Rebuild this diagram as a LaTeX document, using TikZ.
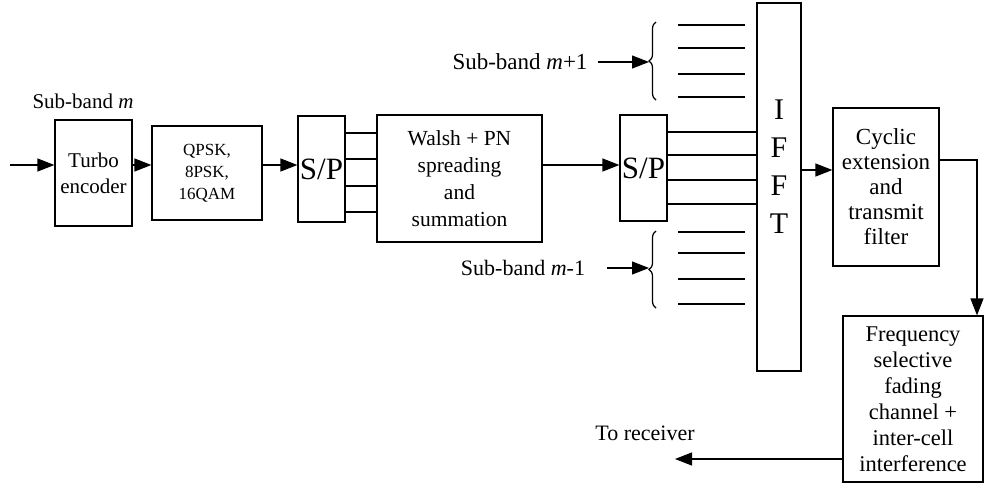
\documentclass[tikz,border=0pt]{standalone}
\usepackage{fontspec}
\setmainfont{Liberation Serif}
\usetikzlibrary{arrows.meta,decorations.pathreplacing}
\begin{document}
\begin{tikzpicture}[x=1pt,y=-1pt,
  line width=1.2pt,
  box/.style={draw,rectangle,align=center,inner sep=0pt,font=\fontsize{21}{26}\selectfont},
  arr/.style={-{Triangle[length=17pt,width=13pt]}},
  lbl/.style={font=\fontsize{22}{26}\selectfont,inner sep=0pt}]
\useasboundingbox (0,0) rectangle (986,485);
% blocks
\node[box,minimum width=77pt,minimum height=106pt] (turbo) at (93.5,173) {Turbo\\encoder};
\node[box,minimum width=110pt,minimum height=94pt,font=\fontsize{17}{22}\selectfont] (qpsk) at (207,173) {QPSK,\\8PSK,\\16QAM};
\node[box,minimum width=47pt,minimum height=106pt,font=\fontsize{31}{34}\selectfont] (sp1) at (321.5,169) {S/P};
\node[box,minimum width=165pt,minimum height=127pt,font=\fontsize{21.5}{27}\selectfont] (walsh) at (459.5,178.5) {Walsh + PN\\spreading\\and\\summation};
\node[box,minimum width=47pt,minimum height=106pt,font=\fontsize{31}{34}\selectfont] (sp2) at (643.5,168) {S/P};
\node[draw,rectangle,minimum width=44pt,minimum height=368pt,inner sep=0pt] (ifft) at (779,187) {};
\node[align=center,inner sep=0pt,font=\fontsize{30}{38}\selectfont] (ifftt) at (779,167) {I\\F\\F\\T};
\node[box,minimum width=106pt,minimum height=158pt,font=\fontsize{23}{25}\selectfont] (cyc) at (886,187) {Cyclic\\extension\\and\\transmit\\filter};
\node[box,minimum width=140pt,minimum height=166pt,font=\fontsize{22.5}{26}\selectfont] (chan) at (913,399) {Frequency\\selective\\fading\\channel +\\inter-cell\\interference};
% labels
\node[lbl,font=\fontsize{21}{24}\selectfont] (lm) at (83,101) {Sub-band \textit{m}};
\node[lbl,font=\fontsize{23}{26}\selectfont] (lmp) at (520,62) {Sub-band \textit{m}+1};
\node[lbl] (lmm) at (523,268) {Sub-band \textit{m}-1};
\node[lbl] (rx) at (645,433) {To receiver};
% main chain
\coordinate (in) at (10,165);
\draw[arr] (in) -- (in -| turbo.west);
\draw[arr] (turbo.east |- in) -- (qpsk.west |- in);
\draw[arr] (qpsk.east |- in) -- (sp1.west |- in);
\foreach \y in {133,159,186,212}
  \draw (sp1.east |- 0,\y) -- (walsh.west |- 0,\y);
\draw[arr] (walsh.east |- in) -- (sp2.west |- in);
\foreach \y in {132,155,180,204}
  \draw (sp2.east |- 0,\y) -- (ifft.west |- 0,\y);
% upper sub-band
\coordinate (ub) at (649,62);
\coordinate (ua) at (598,62);
\draw[arr] (ua) -- (ub);
\draw[decorate,decoration={brace,amplitude=7pt}] (656,100) -- (656,22);
\foreach \y in {25,48,74,97}
  \draw (678,\y) -- (745,\y);
% lower sub-band
\coordinate (lb) at (649,268);
\coordinate (la) at (607,268);
\draw[arr] (la) -- (lb);
\draw[decorate,decoration={brace,amplitude=7pt}] (656,308) -- (656,231);
\foreach \y in {232,253,279,304}
  \draw (678,\y) -- (745,\y);
% to cyclic and channel
\draw[arr] (ifft.east |- 0,170) -- (cyc.west |- 0,170);
\coordinate (c1) at (977,160);
\draw[arr] (cyc.east |- c1) -- (c1) -- (c1 |- chan.north);
\coordinate (out) at (675,459);
\draw[arr] (chan.west |- out) -- (out);
\end{tikzpicture}
\end{document}
